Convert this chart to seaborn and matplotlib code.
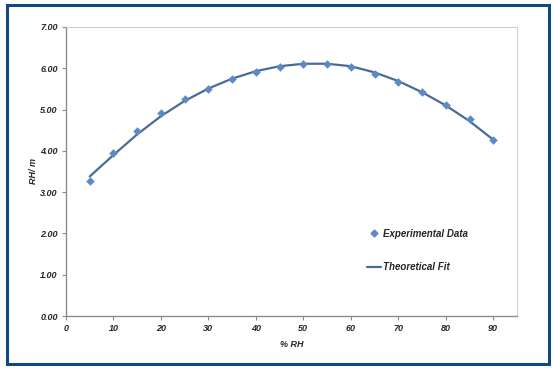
import numpy as np
import pandas as pd
import matplotlib
matplotlib.use("Agg")
import matplotlib.pyplot as plt
import seaborn as sns
from matplotlib.patches import Rectangle
from matplotlib.lines import Line2D

# --- podaci ---
rh = [5, 10, 15, 20, 25, 30, 35, 40, 45, 50, 55, 60, 65, 70, 75, 80, 85, 90]
exp_data = [3.28, 3.95, 4.49, 4.91, 5.25, 5.51, 5.74, 5.90, 6.03, 6.10,
            6.11, 6.04, 5.87, 5.66, 5.42, 5.12, 4.77, 4.27]
fit_data = [3.38, 3.90, 4.40, 4.84, 5.21, 5.51, 5.75, 5.93, 6.05, 6.11,
            6.11, 6.05, 5.90, 5.69, 5.42, 5.10, 4.72, 4.27]
x_ticks = [0, 10, 20, 30, 40, 50, 60, 70, 80, 90]
y_ticks = [0, 1, 2, 3, 4, 5, 6, 7]

df = pd.DataFrame({"rh": rh, "exp": exp_data, "fit": fit_data})

sns.set_style("white")
plt.rcParams["font.family"] = ["Liberation Sans", "DejaVu Sans"]

fig = plt.figure(figsize=(5.53, 3.68), dpi=100)
ax = fig.add_axes([66 / 553, 1 - 316 / 368, (517 - 66) / 553, (316 - 27) / 368])

sns.lineplot(data=df, x="rh", y="fit", ax=ax, color="#4A6B98", linewidth=1.6,
             zorder=2)
sns.scatterplot(data=df, x="rh", y="exp", ax=ax, marker="D", s=16,
                color="#5B8AC6", edgecolor="#5B8AC6", zorder=3)

ax.set_xlim(0, 95)
ax.set_ylim(0, 7)
ax.set_xticks(x_ticks)
ax.set_yticks(y_ticks)
ax.set_yticklabels([f"{v:.2f}" for v in y_ticks])
ax.set_xticklabels([str(v) for v in x_ticks])

tick_font = dict(fontsize=6.5, fontweight="bold", fontstyle="italic")
for lbl in ax.get_xticklabels() + ax.get_yticklabels():
    lbl.set_fontsize(6.5)
    lbl.set_fontweight("bold")
    lbl.set_fontstyle("italic")

ax.set_xlabel("% RH", labelpad=5, **tick_font)
ax.set_ylabel("RH/ m", labelpad=1.5, **tick_font)

ax.tick_params(axis="both", direction="out", length=3, width=0.8,
               color="#8C8C8C", pad=3)
ax.tick_params(axis="x", bottom=True, pad=3)
ax.tick_params(axis="y", left=True)

for side in ["left", "bottom"]:
    ax.spines[side].set_color("#8C8C8C")
    ax.spines[side].set_linewidth(1.0)
for side in ["top", "right"]:
    ax.spines[side].set_visible(True)
    ax.spines[side].set_color("#D0D0D0")
    ax.spines[side].set_linewidth(0.8)

handles = [
    Line2D([], [], marker="D", linestyle="none", color="#5B8AC6", markersize=3.5),
    Line2D([], [], color="#4A6B98", linewidth=1.6),
]
leg = ax.legend(handles, ["Experimental Data", "Theoretical Fit"],
                loc="upper left", bbox_to_anchor=(0.648, 0.333), frameon=False,
                labelspacing=2.45, handlelength=1.45, handletextpad=0.2,
                prop=dict(size=7, weight="bold", style="italic",
                          family=["Liberation Sans", "DejaVu Sans"]))

# tamnoplavi okvir oko slike
fig.patches.append(Rectangle((6.5 / 553, 1 - 363.5 / 368), 542 / 553, 359 / 368,
                             transform=fig.transFigure, fill=False,
                             edgecolor="#0E4A80", linewidth=2.2))

fig.savefig("out.png", dpi=100)
